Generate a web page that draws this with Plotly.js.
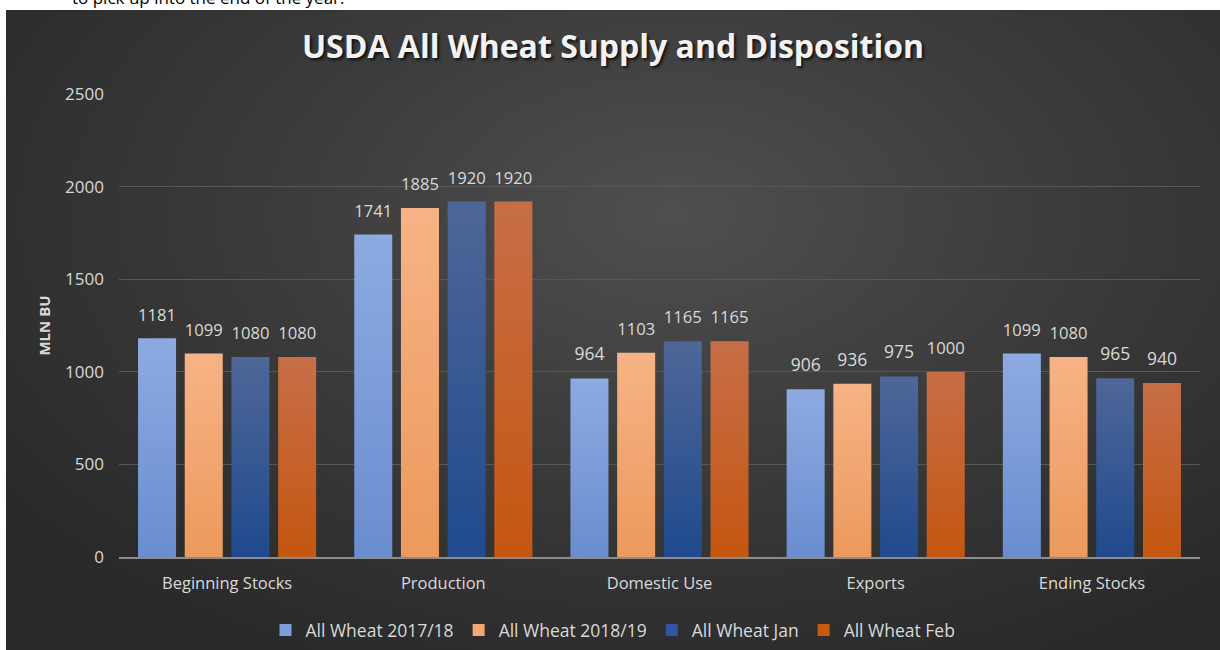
<!DOCTYPE html>
<html><head><meta charset="utf-8">
<script src="https://cdn.plot.ly/plotly-3.0.1.min.js"></script>
<style>
html,body{margin:0;padding:0;background:#fff;width:1220px;height:650px;overflow:hidden;}
#note{position:absolute;left:72px;top:-11px;font-family:'Open Sans';font-size:17px;line-height:17px;color:#000;white-space:nowrap;}
#chart{position:absolute;left:6px;top:10px;width:1214px;height:640px;
background:radial-gradient(ellipse 70% 80% at 55% 32%, #4f4f4f 0%, #3c3c3c 45%, #282828 100%);}
</style></head><body>
<div id="note">to pick up into the end of the year.</div>
<div id="chart"></div>
<script>
const categories = ['Beginning Stocks','Production','Domestic Use','Exports','Ending Stocks'];
const seriesNames = ['All Wheat 2017/18','All Wheat 2018/19','All Wheat Jan','All Wheat Feb'];
const wheat1718 = [1181,1741,964,906,1099];
const wheat1819 = [1099,1885,1103,936,1080];
const wheatJan  = [1080,1920,1165,975,965];
const wheatFeb  = [1080,1920,1165,1000,940];
const yTicks = [0,500,1000,1500,2000,2500];

const seriesValues = [wheat1718, wheat1819, wheatJan, wheatFeb];
const solidColors = ['#7b9ddb','#f3a774','#2f56a0','#c55a11'];
const gradColors = [['#8dabe1','#6a8dd0'],['#f7b386','#ec995c'],['#4f6798','#1f4a8d'],['#c76e48','#c45610']];

const txt = '#d9d9d9';
const traces = seriesValues.map((vals,i)=>({
  type:'bar', name:seriesNames[i], x:categories, y:vals,
  text:vals.map(String), textposition:'outside', cliponaxis:false,
  textfont:{family:'Open Sans', size:17.5, color:txt},
  marker:{color:solidColors[i], line:{width:0}},
  hoverinfo:'none'
}));

const layout = {
  width:1214, height:640,
  margin:{l:113, r:20, t:84, b:93},
  paper_bgcolor:'rgba(0,0,0,0)', plot_bgcolor:'rgba(0,0,0,0)',
  barmode:'group', bargap:0.136, bargroupgap:0.186,
  font:{family:'Open Sans', color:txt},
  title:{text:'USDA All Wheat Supply and Disposition', xref:'container', x:0.5, xanchor:'center',
         yref:'container', y:1-37/640, yanchor:'middle',
         font:{family:'Open Sans', size:32, weight:700, color:'#f2f2f2', shadow:'2px 2px 3px rgba(0,0,0,0.75)'}},
  xaxis:{type:'category', showgrid:false, showline:true, linecolor:'#8c8c8c', linewidth:1.5,
         ticks:'', tickfont:{family:'Open Sans', size:16.5, color:txt}, ticklabelstandoff:11, fixedrange:true},
  yaxis:{range:[0,2500], tickvals:yTicks, ticktext:yTicks.map(String), showgrid:true, gridcolor:'#575757', gridwidth:1,
         zeroline:false, showline:false, ticks:'', ticklabelstandoff:14,
         tickfont:{family:'Open Sans', size:17, color:txt},
         title:{text:'MLN BU', standoff:10, font:{family:'Open Sans', size:15, weight:700, color:txt}}, fixedrange:true},
  showlegend:true,
  legend:{orientation:'h', xref:'container', x:0.5, xanchor:'center', yref:'container', y:1-620/640, yanchor:'middle',
          font:{family:'Open Sans', size:17.5, color:txt}, bgcolor:'rgba(0,0,0,0)', itemwidth:30, traceorder:'normal'}
};

Plotly.newPlot('chart', traces, layout, {staticPlot:true, displayModeBar:false}).then(gd=>{
  const ns='http://www.w3.org/2000/svg';
  const svg = gd.querySelector('svg.main-svg');
  let defs = svg.querySelector('defs');
  if(!defs){defs=document.createElementNS(ns,'defs'); svg.insertBefore(defs, svg.firstChild);}
  gradColors.forEach((g,i)=>{
    const lg=document.createElementNS(ns,'linearGradient');
    lg.setAttribute('id','bgrad'+i); lg.setAttribute('x1','0'); lg.setAttribute('y1','0');
    lg.setAttribute('x2','0'); lg.setAttribute('y2','1');
    g.forEach((c,k)=>{const s=document.createElementNS(ns,'stop'); s.setAttribute('offset', k===0?'0':'1'); s.setAttribute('stop-color',c); lg.appendChild(s);});
    defs.appendChild(lg);
  });
  gd.querySelectorAll('.barlayer .trace.bars').forEach((tr,i)=>{
    tr.querySelectorAll('.point path').forEach(p=>{p.style.fill='url(#bgrad'+i+')';});
    tr.querySelectorAll('.point text').forEach(t=>{
      t.setAttribute('transform','translate(0,-10) '+(t.getAttribute('transform')||''));
    });
  });
});
</script>
</body></html>
